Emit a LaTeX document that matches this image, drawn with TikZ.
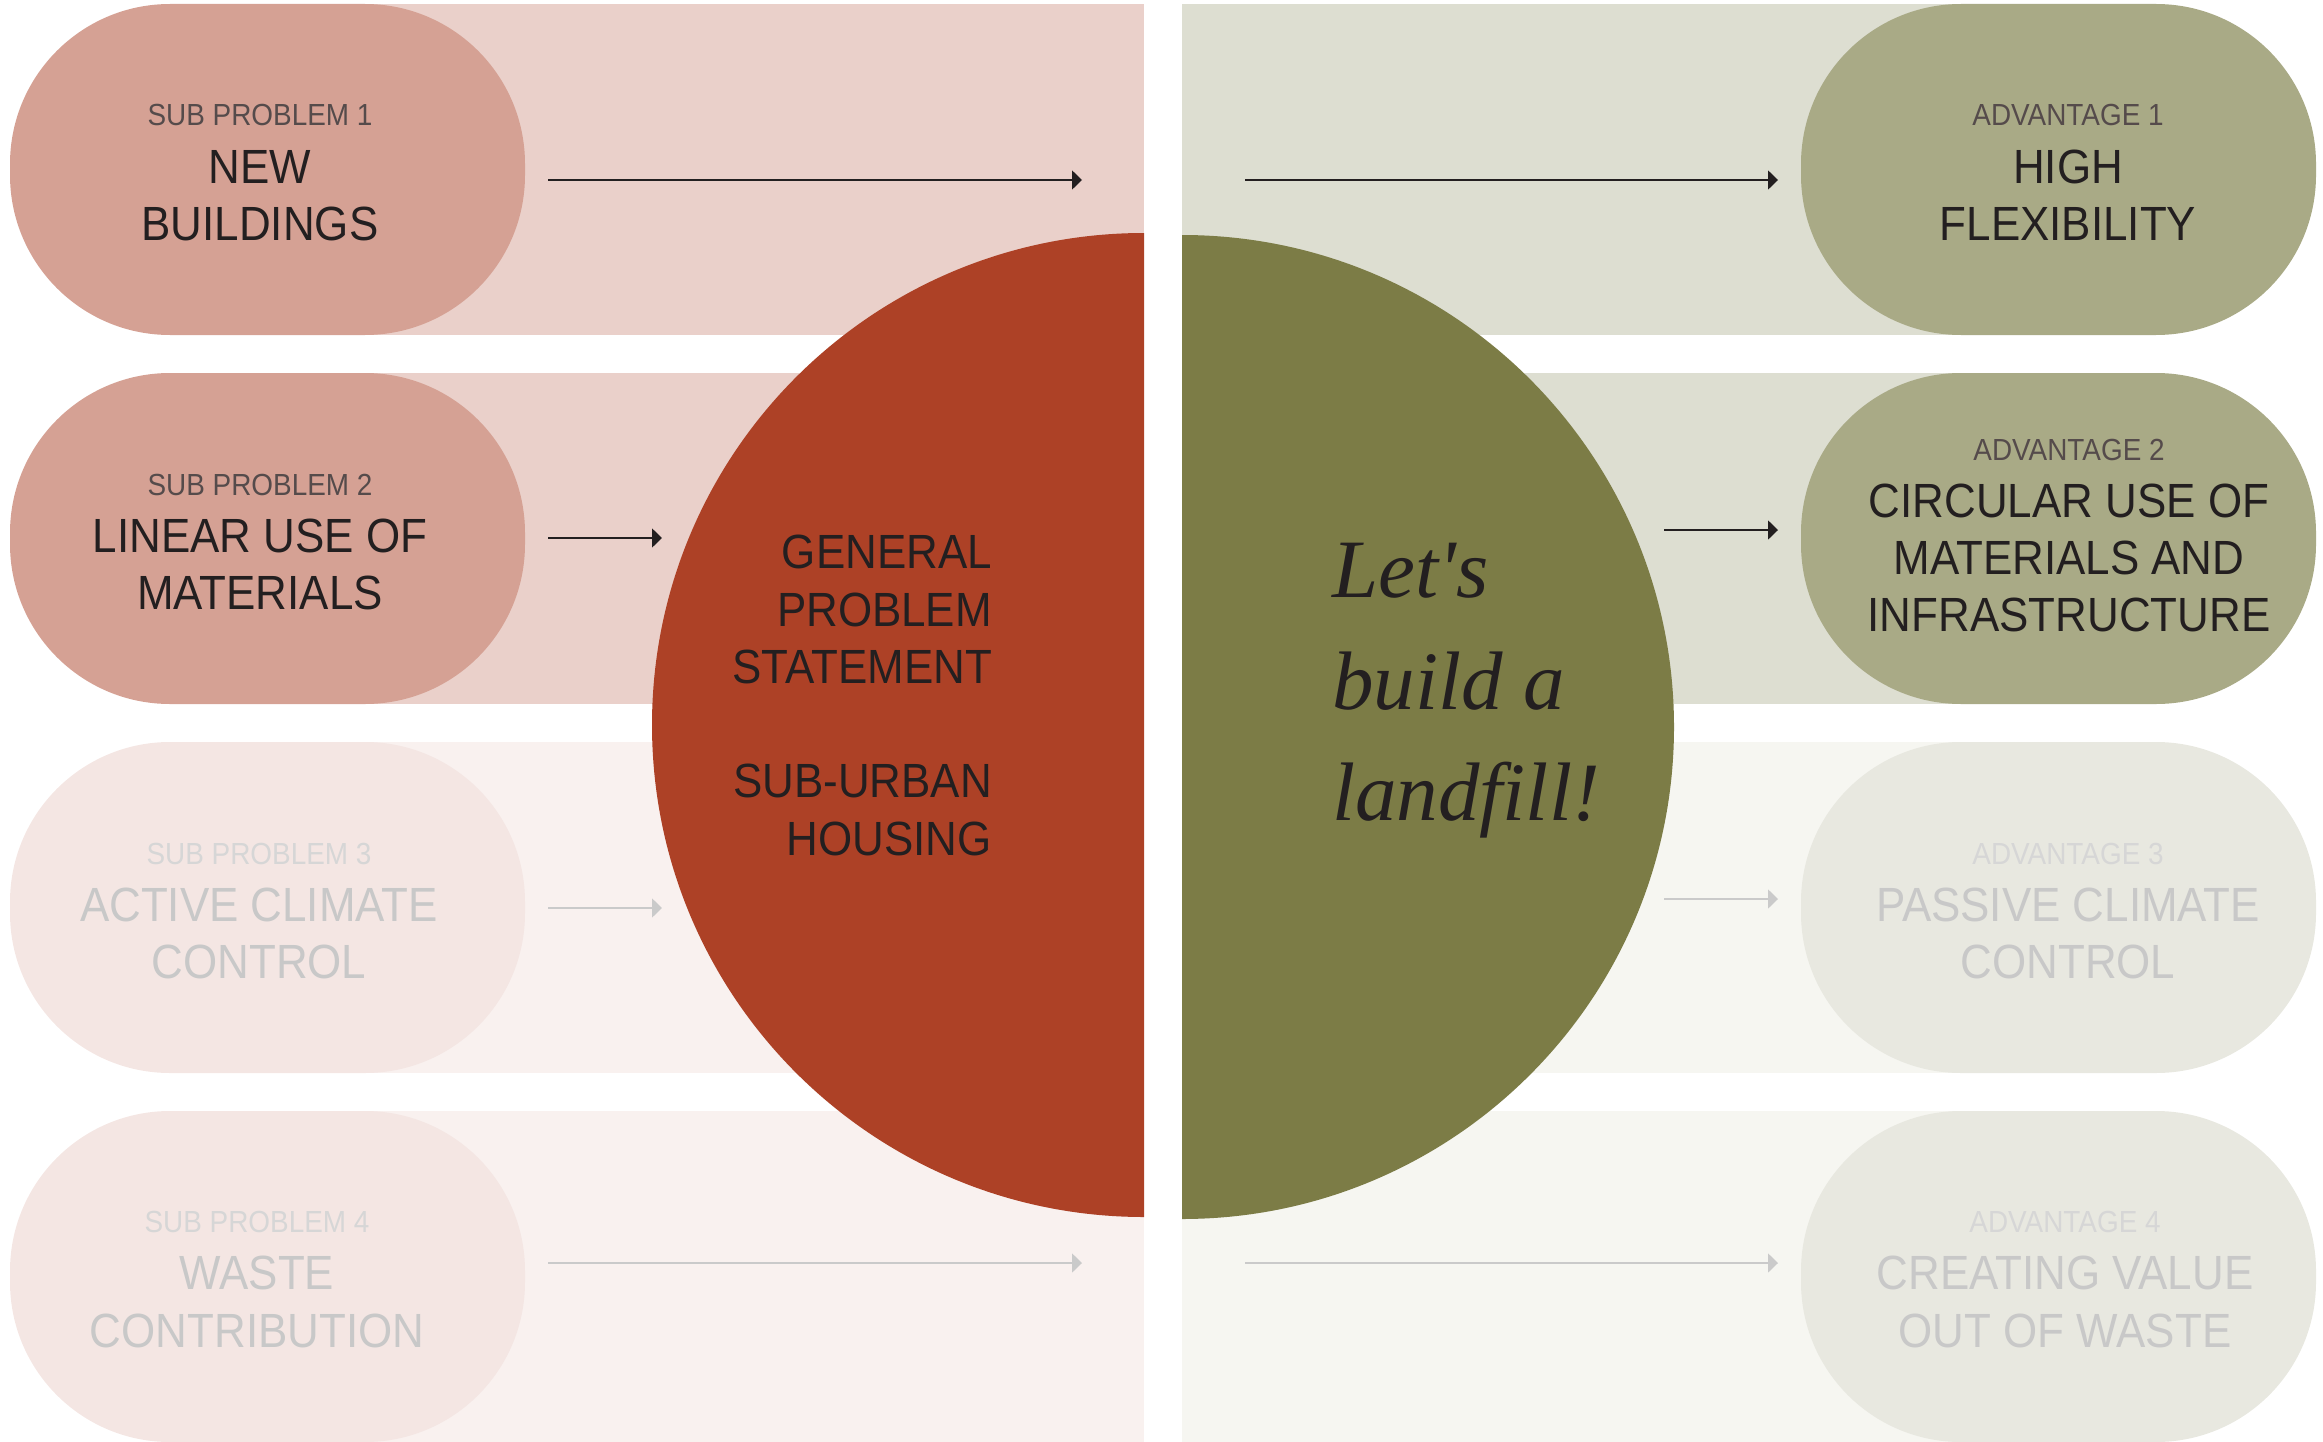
\documentclass[tikz,border=0pt]{standalone}
\usepackage{fontspec}
\setmainfont{Liberation Sans}[FakeStretch=0.915]
\newfontfamily\letsfont{Liberation Serif}
\usetikzlibrary{arrows.meta}
\definecolor{ink}{HTML}{231F20}
\definecolor{subink}{HTML}{554B4B}
\definecolor{fadeink}{HTML}{C8C8C8}
\definecolor{fadesub}{HTML}{D6D6D6}
\definecolor{fadearrow}{HTML}{CACACA}
\definecolor{bandA}{HTML}{EAD0CA}
\definecolor{pillA}{HTML}{D5A194}
\definecolor{bandAf}{HTML}{F9F1EF}
\definecolor{pillAf}{HTML}{F4E6E3}
\definecolor{redc}{HTML}{AD4126}
\definecolor{greenc}{HTML}{7C7C46}
\definecolor{bandB}{HTML}{DDDED1}
\definecolor{pillB}{HTML}{A9AA86}
\definecolor{bandBf}{HTML}{F6F6F1}
\definecolor{pillBf}{HTML}{E8E8E0}
\newcommand\sublbl[2]{{\fontsize{30.5}{57.3}\selectfont\color{#1}#2}}
\tikzset{
  pill/.style={rectangle, rounded corners=160pt, minimum width=515pt, minimum height=331pt, inner sep=0pt},
  lbl/.style={align=center, inner sep=0pt, anchor=north, font=\fontsize{48}{57.3}\selectfont},
  arr/.style={line width=1.6pt, -{Triangle[length=10pt,width=19pt]}},
}
\begin{document}
\begin{tikzpicture}[x=1pt,y=-1pt]
\useasboundingbox (0,0) rectangle (2323,1442);
% bands left
\fill[bandA]  (267,4)    rectangle (1144,335);
\fill[bandA]  (267,373)  rectangle (1144,704);
\fill[bandAf] (267,742)  rectangle (1144,1073);
\fill[bandAf] (267,1111) rectangle (1144,1442);
% bands right
\fill[bandB]  (1182,4)    rectangle (2058,335);
\fill[bandB]  (1182,373)  rectangle (2058,704);
\fill[bandBf] (1182,742)  rectangle (2058,1073);
\fill[bandBf] (1182,1111) rectangle (2058,1442);
% pills
\node[pill, fill=pillA]  (p1) at (267.5,169.5) {};
\node[pill, fill=pillA]  (p2) at (267.5,538.5) {};
\node[pill, fill=pillAf] (p3) at (267.5,907.5) {};
\node[pill, fill=pillAf] (p4) at (267.5,1276.5) {};
\node[pill, fill=pillB]  (q1) at (2058.5,169.5) {};
\node[pill, fill=pillB]  (q2) at (2058.5,538.5) {};
\node[pill, fill=pillBf] (q3) at (2058.5,907.5) {};
\node[pill, fill=pillBf] (q4) at (2058.5,1276.5) {};
% arrow end points
\coordinate (a1s) at (548,180);  \coordinate (a1e) at (1082,180);
\coordinate (a2s) at (548,538);  \coordinate (a2e) at (662,538);
\coordinate (a3s) at (548,908);  \coordinate (a3e) at (662,908);
\coordinate (a4s) at (548,1263); \coordinate (a4e) at (1082,1263);
\coordinate (b1s) at (1245,180); \coordinate (b1e) at (1778,180);
\coordinate (b2s) at (1664,530); \coordinate (b2e) at (1778,530);
\coordinate (b3s) at (1664,899); \coordinate (b3e) at (1778,899);
\coordinate (b4s) at (1245,1263);\coordinate (b4e) at (1778,1263);
\draw[arr, ink] (a1s) -- (a1e);
\draw[arr, ink] (a2s) -- (a2e);
\draw[arr, fadearrow] (a3s) -- (a3e);
\draw[arr, fadearrow] (a4s) -- (a4e);
\draw[arr, ink] (b1s) -- (b1e);
\draw[arr, ink] (b2s) -- (b2e);
\draw[arr, fadearrow] (b3s) -- (b3e);
\draw[arr, fadearrow] (b4s) -- (b4e);
% half discs
\fill[redc] (1144,233) arc[start angle=-90, end angle=-270, radius=492] -- cycle;
\fill[greenc] (1182,235) arc[start angle=-90, end angle=90, radius=492] -- cycle;
% pill texts
\node[lbl, text=ink] (t1) at (260,104.5) {\sublbl{subink}{SUB PROBLEM 1}\\NEW\\BUILDINGS};
\node[lbl, text=ink] (t2) at (260,473.5) {\sublbl{subink}{SUB PROBLEM 2}\\LINEAR USE OF\\MATERIALS};
\node[lbl, text=fadeink] (t3) at (259,842.5) {\sublbl{fadesub}{SUB PROBLEM 3}\\ACTIVE CLIMATE\\CONTROL};
\node[lbl, text=fadeink] (t4) at (257,1211) {\sublbl{fadesub}{SUB PROBLEM 4}\\WASTE\\CONTRIBUTION};
\node[lbl, text=ink] (u1) at (2068,104.5) {\sublbl{subink}{ADVANTAGE 1}\\HIGH\\FLEXIBILITY};
\node[lbl, text=ink] (u2) at (2069,438.5) {\sublbl{subink}{ADVANTAGE 2}\\CIRCULAR USE OF\\MATERIALS AND\\INFRASTRUCTURE};
\node[lbl, text=fadeink] (u3) at (2068,842.5) {\sublbl{fadesub}{ADVANTAGE 3}\\PASSIVE CLIMATE\\CONTROL};
\node[lbl, text=fadeink] (u4) at (2065,1211) {\sublbl{fadesub}{ADVANTAGE 4}\\CREATING VALUE\\OUT OF WASTE};
% centre texts
\node[align=right, inner sep=0pt, anchor=north east, text=ink, font=\fontsize{48}{57.3}\selectfont] (gps) at (992,535)
  {GENERAL\\PROBLEM\\STATEMENT\\[57.3pt]SUB-URBAN\\HOUSING};
\node[align=left, inner sep=0pt, anchor=north west, text=ink, font=\letsfont\itshape\fontsize{83}{111.5}\selectfont] (lets) at (1332,543)
  {Let{\char"0027}s\\build a\\landfill!};
\end{tikzpicture}
\end{document}
